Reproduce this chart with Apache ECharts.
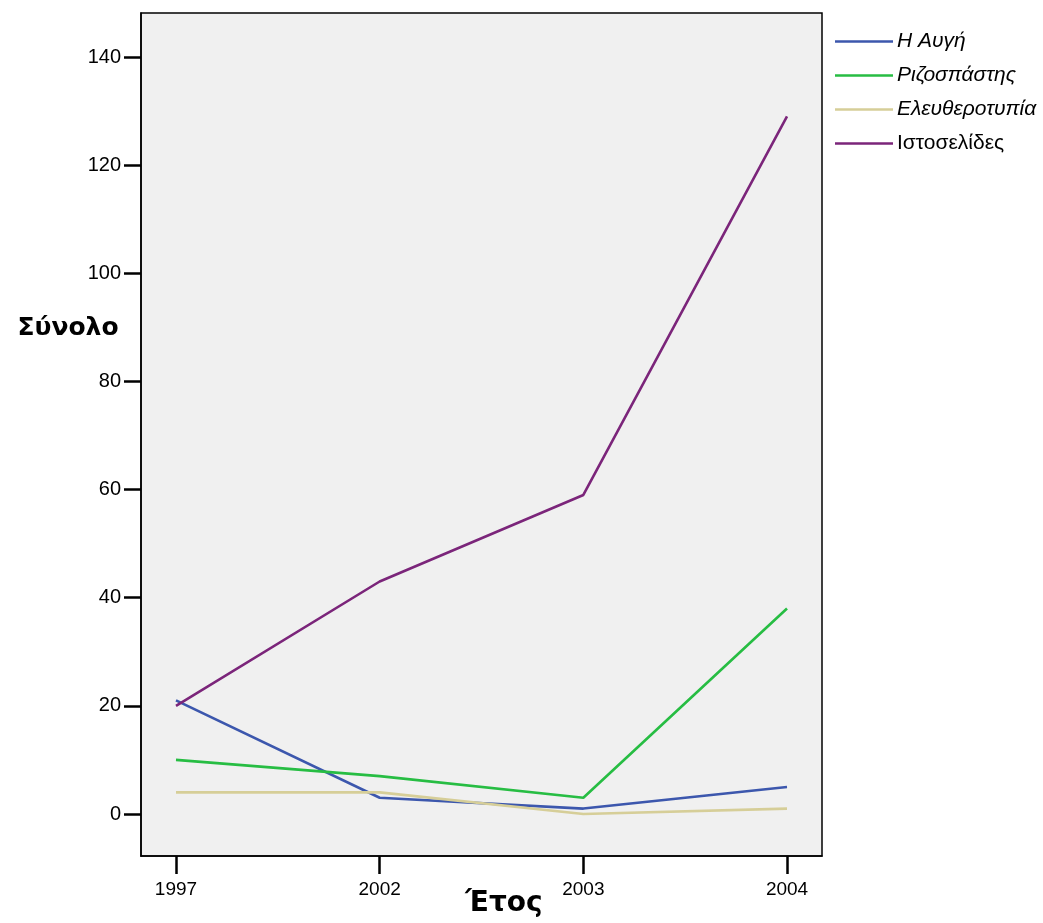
<!DOCTYPE html>
<html>
<head>
<meta charset="utf-8">
<script src="https://cdn.jsdelivr.net/npm/echarts@6/dist/echarts.min.js"></script>
<style>
html,body{margin:0;padding:0;background:#fff;}
#chart{width:1043px;height:923px;}
</style>
</head>
<body>
<div id="chart"></div>
<script>
const years = ['1997', '2002', '2003', '2004'];
const yTicks = [0, 20, 40, 60, 80, 100, 120, 140];
const seriesNames = ['Η Αυγή', 'Ριζοσπάστης', 'Ελευθεροτυπία', 'Ιστοσελίδες'];
const avgi = [21, 3, 1, 5];
const rizospastis = [10, 7, 3, 38];
const eleftherotypia = [4, 4, 0, 1];
const istoselides = [20, 43, 59, 129];
const colors = ['#3c57ad', '#27bd43', '#d6ce98', '#7b257a'];

const values = [avgi, rizospastis, eleftherotypia, istoselides];
const xIdx = years.map((_, i) => i);

const chart = echarts.init(document.getElementById('chart'));
const font = '"Liberation Sans", Arial, sans-serif';
const titleFont = '"DejaVu Sans", Verdana, sans-serif';

chart.setOption({
  animation: false,
  backgroundColor: '#ffffff',
  grid: {
    left: 141, right: 221, top: 13, bottom: 67,
    show: true, backgroundColor: '#f0f0f0', borderColor: '#000', borderWidth: 1.5
  },
  xAxis: {
    type: 'value',
    min: -0.1718, max: 3.1718,
    splitLine: { show: false },
    axisLine: { show: true, onZero: false, lineStyle: { color: '#000', width: 1.5 } },
    axisTick: { show: true, customValues: xIdx, length: 18, lineStyle: { color: '#000', width: 2.5 } },
    axisLabel: {
      customValues: xIdx, margin: 24,
      formatter: v => years[Math.round(v)],
      color: '#000', fontFamily: font, fontSize: 19
    }
  },
  yAxis: {
    type: 'value',
    min: -7.77, max: 148.14,
    splitLine: { show: false },
    axisLine: { show: true, onZero: false, lineStyle: { color: '#000', width: 1.5 } },
    axisTick: { show: true, customValues: yTicks, length: 17, lineStyle: { color: '#000', width: 2.5 } },
    axisLabel: {
      customValues: yTicks, margin: 20,
      color: '#000', fontFamily: font, fontSize: 20
    }
  },
  legend: {
    left: 835, top: 31, orient: 'vertical', padding: 0,
    icon: 'rect', itemWidth: 58, itemHeight: 2.6, itemGap: 13,
    textStyle: { fontFamily: font, fontSize: 21, color: '#000', padding: [0, 0, 0, -1] },
    data: seriesNames.map((n, i) => ({
      name: n,
      textStyle: { fontStyle: i < 3 ? 'italic' : 'normal' }
    }))
  },
  graphic: [
    { type: 'text', x: 68, y: 328, style: { text: 'Σύνολο', font: 'bold 25px ' + titleFont, fill: '#000', align: 'center', verticalAlign: 'middle' } },
    { type: 'text', x: 504, y: 904, style: { text: 'Έτος', font: 'bold 28px ' + titleFont, fill: '#000', align: 'center', verticalAlign: 'middle' } }
  ],
  series: seriesNames.map((n, i) => ({
    name: n,
    type: 'line',
    data: values[i].map((v, j) => [xIdx[j], v]),
    showSymbol: false,
    symbol: 'none',
    color: colors[i],
    lineStyle: { color: colors[i], width: 2.6 }
  }))
});
</script>
</body>
</html>
